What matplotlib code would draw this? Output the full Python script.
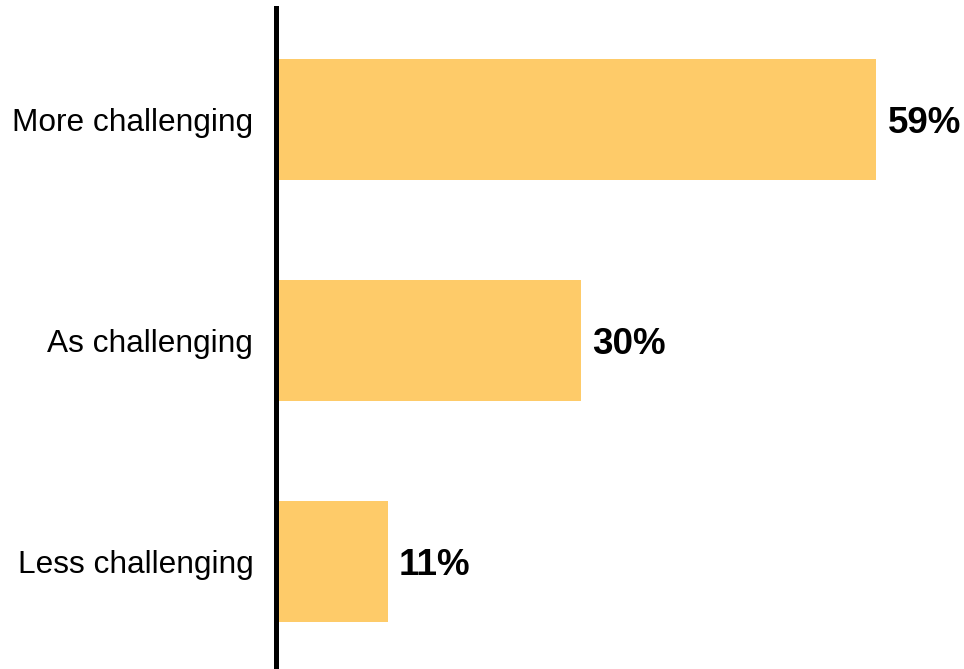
import matplotlib
matplotlib.use("Agg")
import matplotlib.pyplot as plt

categories = ["More challenging", "As challenging", "Less challenging"]
values = [59, 30, 11]
value_labels = ["59%", "30%", "11%"]

plt.rcParams["font.family"] = ["Liberation Sans", "DejaVu Sans"]

fig = plt.figure(figsize=(9.64, 6.69), dpi=100)
ax = fig.add_axes([275.5 / 964, 0, 1 - 275.5 / 964, 661 / 669])

bar_color = "#FECB69"
positions = list(range(len(categories)))
ax.barh(positions, values, height=0.548, color=bar_color, zorder=1)

ax.set_xlim(0, 67.6)
ax.set_ylim(2.489, -0.505)

for pos, val, lab in zip(positions, values, value_labels):
    ax.annotate(lab, xy=(val, pos), xytext=(8, -3), textcoords="offset points",
                ha="left", va="center", fontsize=26.5, fontweight="bold", color="black")

ax.set_yticks(positions)
ax.set_yticklabels(categories, fontsize=22.8)
ax.tick_params(axis="y", length=0, pad=16)
ax.set_xticks([])

for side in ["top", "right", "bottom"]:
    ax.spines[side].set_visible(False)
ax.spines["left"].set_linewidth(3.6)
ax.spines["left"].set_color("black")
ax.spines["left"].set_zorder(3)

fig.savefig("out.png", dpi=100)
